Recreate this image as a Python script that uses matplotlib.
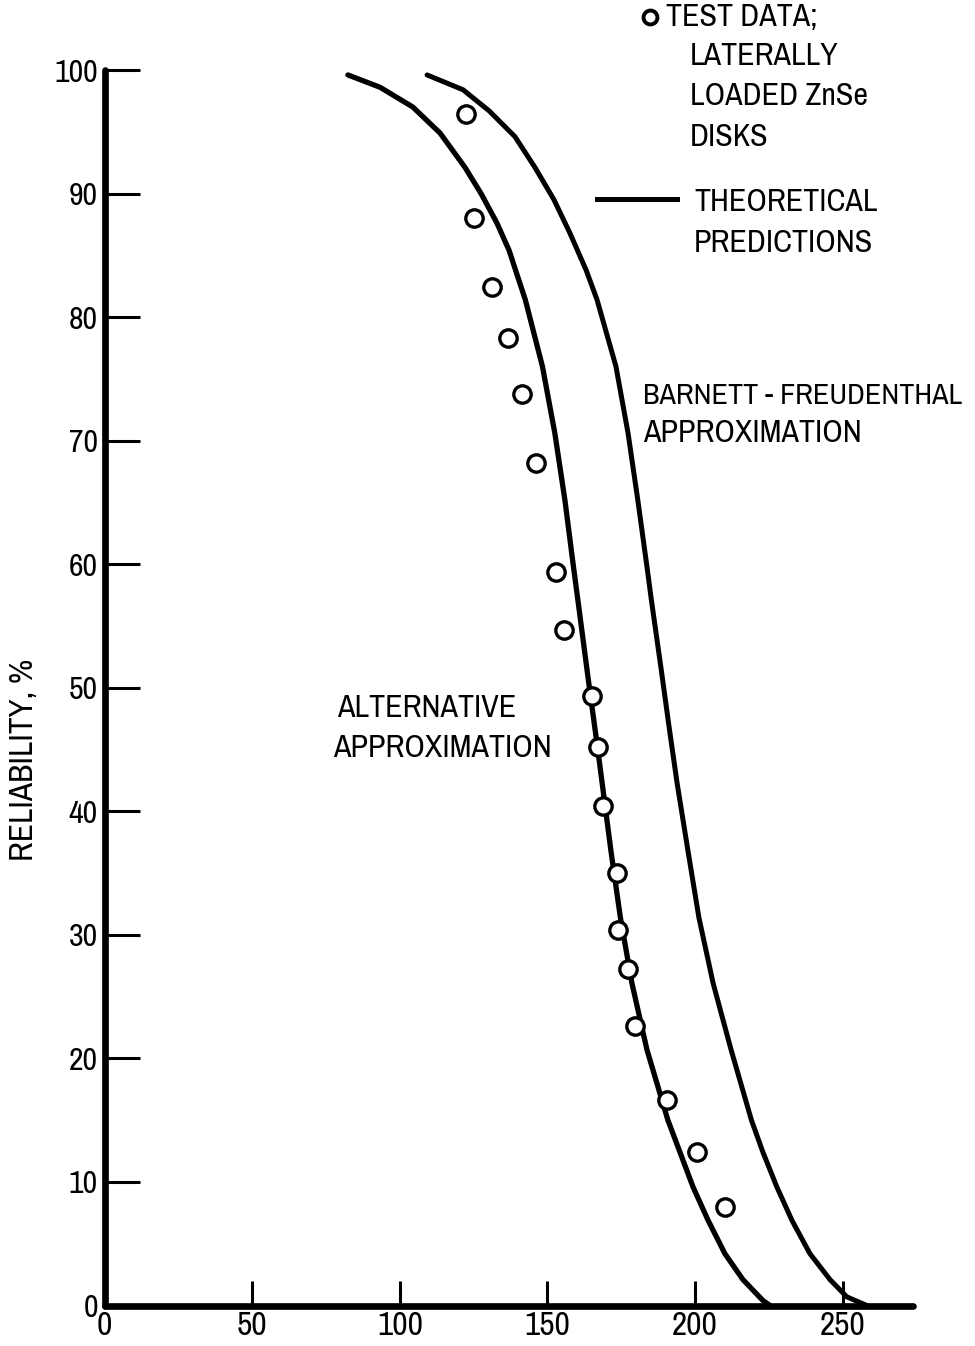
import matplotlib
matplotlib.use("Agg")
import matplotlib.pyplot as plt
from matplotlib import font_manager

names = {f.name for f in font_manager.fontManager.ttflist}
FONT = "Archivo Narrow" if "Archivo Narrow" in names else "DejaVu Sans"
plt.rcParams["font.family"] = [FONT, "DejaVu Sans"]

# ---- data ----
test_stress = [122.3, 125.2, 131.1, 136.5, 141.3, 146.0, 152.9, 155.7, 165.2,
               167.0, 168.9, 173.5, 174.0, 177.2, 179.6, 190.6, 200.5, 210.1]
test_rel = [96.4, 88.0, 82.4, 78.3, 73.8, 68.2, 59.4, 54.7, 49.3,
            45.2, 40.4, 35.0, 30.4, 27.2, 22.6, 16.6, 12.4, 8.0]

# "Alternative approximation" curve
alt_stress = [82.4, 93.3, 104.4, 113.6, 122.1, 127.5, 132.9, 137.0, 140.7, 142.5,
              148.3, 152.5, 155.9, 158.8, 160.3, 163.7, 167.1, 171.5, 174.7,
              178.6, 183.7, 190.8, 194.9, 199.3, 204.4, 210.1, 216.2, 223.0, 225.4]
alt_rel = [99.6, 98.6, 97.0, 94.9, 92.1, 90.0, 87.6, 85.4, 82.7, 81.4,
           76.0, 70.6, 65.2, 59.8, 57.1, 50.9, 44.9, 36.8, 31.4,
           26.1, 20.7, 15.0, 12.4, 9.6, 6.9, 4.2, 2.1, 0.4, 0.0]

# "Barnett - Freudenthal approximation" curve
bf_stress = [109.2, 121.4, 130.2, 139.0, 145.8, 152.2, 157.6, 163.1, 166.8, 173.2,
             177.3, 180.6, 183.7, 185.2, 188.4, 191.1, 193.9, 197.6, 201.3,
             206.1, 212.2, 219.1, 223.0, 227.7, 232.8, 238.9, 245.7, 251.4, 258.2]
bf_rel = [99.6, 98.4, 96.7, 94.6, 92.1, 89.5, 86.8, 83.8, 81.4, 76.0,
          70.6, 65.2, 59.8, 57.1, 51.7, 47.0, 42.3, 36.8, 31.4,
          26.1, 20.7, 15.0, 12.4, 9.6, 6.9, 4.2, 2.1, 0.7, 0.0]

x_ticks = [0, 50, 100, 150, 200, 250]
y_ticks = [0, 10, 20, 30, 40, 50, 60, 70, 80, 90, 100]

W, H = 975, 1346
fig = plt.figure(figsize=(W / 100, H / 100), dpi=100)
ax = fig.add_axes([104.7 / W, 40.5 / H, 808.8 / W, 1235.5 / H])
ax.set_xlim(0, 274)
ax.set_ylim(0, 100)

for s in ["top", "right"]:
    ax.spines[s].set_visible(False)
for s in ["left", "bottom"]:
    ax.spines[s].set_linewidth(4.8)
    ax.spines[s].set_capstyle("round")

ax.plot(alt_stress, alt_rel, color="black", lw=3.8, clip_on=False,
        solid_capstyle="round", solid_joinstyle="round", zorder=3)
ax.plot(bf_stress, bf_rel, color="black", lw=3.6, clip_on=False,
        solid_capstyle="round", solid_joinstyle="round", zorder=3)
ax.plot(test_stress, test_rel, "o", ms=12.5, mfc="white", mec="black",
        mew=2.4, zorder=4, clip_on=False)

ax.set_xticks(x_ticks)
ax.set_yticks(y_ticks)
ax.tick_params(axis="y", direction="in", length=25, width=2.2, pad=5,
               labelsize=23)
ax.tick_params(axis="x", direction="in", length=18, width=2.2, pad=4,
               labelsize=24)

fs = 23
def ftext(x, y, s, **kw):
    fig.text(x / W, 1 - y / H, s, fontsize=kw.pop("fontsize", fs),
             va="center", ha=kw.pop("ha", "left"), **kw)

ftext(24, 760, "RELIABILITY, %", rotation=90, ha="center", fontsize=24)

# curve annotations
ftext(337, 708, "ALTERNATIVE")
ftext(333, 748, "APPROXIMATION")
ftext(643, 395, "BARNETT - FREUDENTHAL", fontsize=21.6)
ftext(643, 433, "APPROXIMATION")

# legend (drawn manually in figure coordinates)
fig.lines.append(plt.Line2D([650 / W], [1 - 17 / H], marker="o", ms=10,
                            mfc="white", mec="black", mew=2.8,
                            transform=fig.transFigure))
ftext(666, 17, "TEST DATA;")
ftext(690, 56, "LATERALLY")
ftext(690, 96, "LOADED ZnSe")
ftext(690, 137, "DISKS")
fig.lines.append(plt.Line2D([597 / W, 677 / W], [1 - 199 / H, 1 - 199 / H],
                            color="black", lw=3.6, transform=fig.transFigure))
ftext(694, 202, "THEORETICAL")
ftext(694, 243, "PREDICTIONS")

fig.savefig("out.png", dpi=100, facecolor="white")
